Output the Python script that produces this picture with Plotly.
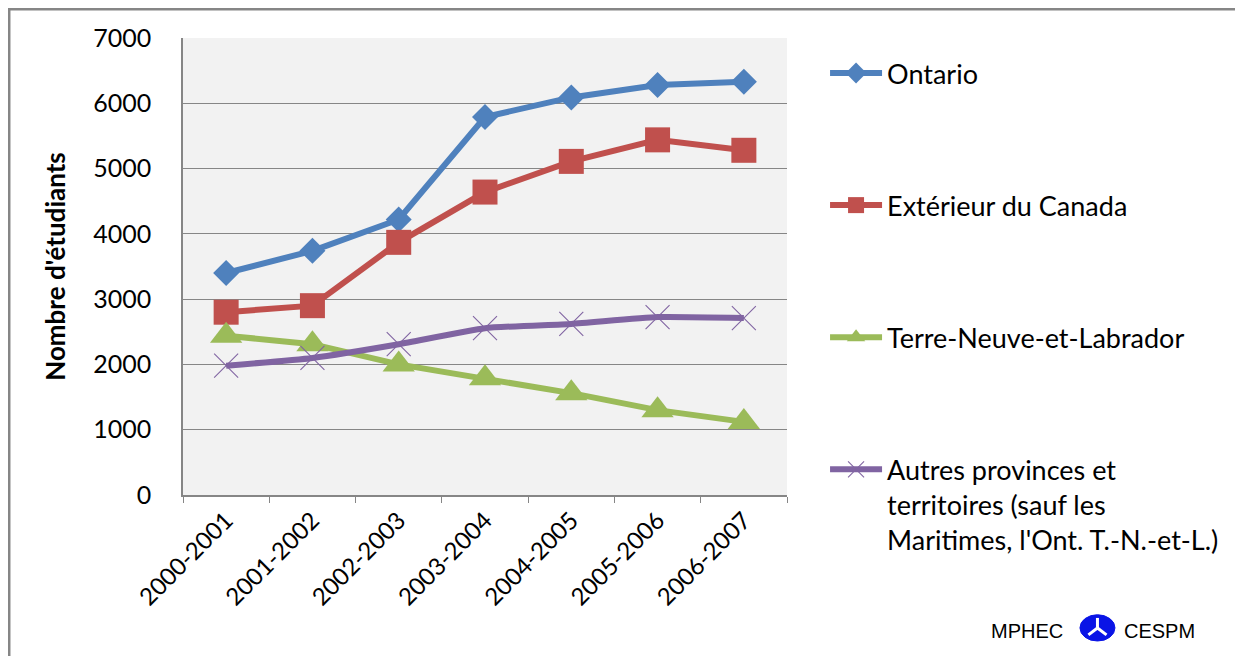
import plotly.graph_objects as go

years = ["2000-2001", "2001-2002", "2002-2003", "2003-2004", "2004-2005", "2005-2006", "2006-2007"]
ontario = [3400, 3740, 4220, 5790, 6090, 6280, 6330]
exterieur = [2800, 2900, 3870, 4640, 5110, 5440, 5280]
terre_neuve = [2440, 2310, 2000, 1790, 1560, 1300, 1120]
autres = [1980, 2100, 2310, 2555, 2620, 2725, 2710]

names = ["Ontario", "Extérieur du Canada", "Terre-Neuve-et-Labrador",
         "Autres provinces et<br>territoires (sauf les<br>Maritimes, l'Ont. T.-N.-et-L.)"]
y_ticks = [0, 1000, 2000, 3000, 4000, 5000, 6000, 7000]

FONT = "Lato"
fig = go.Figure()

fig.add_trace(go.Scatter(x=years, y=ontario, name=names[0], legendgroup="a",
                         mode="lines+markers",
                         line=dict(color="#4F81BD", width=6),
                         marker=dict(symbol="diamond", size=20, color="#4F81BD")))
fig.add_trace(go.Scatter(x=years, y=exterieur, name=names[1], legendgroup="b",
                         mode="lines+markers",
                         line=dict(color="#C0504D", width=6),
                         marker=dict(symbol="square", size=25, color="#C0504D")))
fig.add_trace(go.Scatter(x=years, y=terre_neuve, name=names[2], legendgroup="c",
                         mode="lines+markers",
                         line=dict(color="#9BBB59", width=6),
                         marker=dict(symbol="triangle-up", size=28, color="#9BBB59")))
fig.add_trace(go.Scatter(x=years, y=autres, name=names[3], legendgroup="d",
                         mode="lines+markers",
                         line=dict(color="#8064A2", width=6, shape="spline", smoothing=0.5),
                         marker=dict(symbol="x-thin", size=24,
                                     line=dict(color="#8064A2", width=1.1))))

# Left/top chart frame
fig.add_shape(type="rect", xref="paper", yref="paper",
              x0=-0.2877, x1=1.9, y0=-0.6, y1=1.0630,
              line=dict(color="#868686", width=2.5), fillcolor="rgba(0,0,0,0)", layer="below")

# Logo
fig.add_annotation(xref="paper", yref="paper", x=1.397, y=-0.2976, text="MPHEC",
                   xanchor="center", yanchor="middle",
                   showarrow=False, font=dict(family="Liberation Sans", size=20, color="#000"))
fig.add_annotation(xref="paper", yref="paper", x=1.6175, y=-0.2976, text="CESPM",
                   xanchor="center", yanchor="middle",
                   showarrow=False, font=dict(family="Liberation Sans", size=20, color="#000"))
fig.add_shape(type="circle", xref="paper", yref="paper",
              x0=1.485, x1=1.543, y0=-0.3195, y1=-0.262,
              line=dict(color="#0A14E6", width=1), fillcolor="#0A14E6")
for (xa, ya, xb, yb) in [(1.514, -0.291, 1.514, -0.269), (1.514, -0.291, 1.499, -0.306),
                         (1.514, -0.291, 1.529, -0.306)]:
    fig.add_shape(type="line", xref="paper", yref="paper", x0=xa, y0=ya, x1=xb, y1=yb,
                  line=dict(color="white", width=3))

fig.update_layout(
    width=1243, height=656,
    margin=dict(l=175, r=464, t=30, b=169),
    paper_bgcolor="white", plot_bgcolor="#F2F2F2",
    font=dict(family=FONT, color="#000"),
    showlegend=True,
    legend=dict(x=1.063, y=0.976, xanchor="left", yanchor="top",
                font=dict(family=FONT, size=27, color="#000"),
                traceorder="grouped", tracegroupgap=94, valign="top",
                itemwidth=52, maxheight=620, bgcolor="rgba(0,0,0,0)"),
)
fig.update_xaxes(type="category", range=[-0.5, 6.5], showgrid=False,
                 showline=True, linecolor="#868686", linewidth=1.5,
                 ticks="outside", tickson="boundaries", ticklen=6, tickcolor="#868686",
                 tickangle=-45, tickfont=dict(family=FONT, size=24, color="#000"))
fig.update_yaxes(range=[0, 7000], tickvals=y_ticks, showgrid=True,
                 gridcolor="#868686", gridwidth=1.3,
                 showline=True, linecolor="#868686", linewidth=1.5,
                 ticks="", ticklabelstandoff=25, zeroline=False,
                 tickfont=dict(family=FONT, size=25, color="#000"),
                 title=dict(text="<b>Nombre d'étudiants</b>", standoff=20,
                            font=dict(family=FONT, size=26, color="#000")))

fig.write_html("out.html")
